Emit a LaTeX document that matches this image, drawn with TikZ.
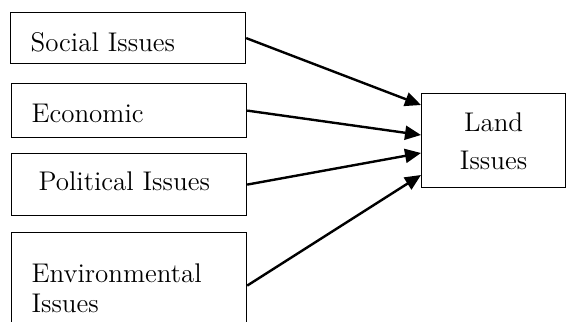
\documentclass[tikz,border=0pt]{standalone}
\usetikzlibrary{arrows.meta}

\tikzset{
  issue/.style={
    draw,
    line width=0.6pt,
    anchor=north west,
    text width=97.5pt,
    align=left,
    inner xsep=10pt,
    inner ysep=0pt,
    font=\fontsize{13.5}{15}\selectfont
  },
  link/.style={
    line width=1.2pt,
    -{Triangle[length=8pt,width=7pt]}
  }
}

\begin{document}
\begin{tikzpicture}[x=0.5pt, y=-0.5pt]
    \useasboundingbox (0,0) rectangle (566,321);
    \clip (0,0) rectangle (566,321);

    \node[issue, text height=19.5pt, text depth=6pt] (social) at (10, 12) {Social Issues};
    \node[issue, text height=19.5pt, text depth=7.5pt] (economic) at (11, 83) {Economic};
    \node[issue, text height=18.5pt, text depth=12.5pt] (political) at (11, 153) {\hspace*{3.5pt}Political Issues};
    \node[issue, text height=25pt, text depth=28pt] (environ) at (11, 232) {Environmental\\Issues};

    \node[issue, text width=72pt, inner xsep=0pt, align=center,
      font=\fontsize{13.5}{19}\selectfont,
      text height=19pt, text depth=28pt] (land) at (421, 93) {Land\\Issues};

    \draw[link] (social.east) -- ([yshift=-6pt]land.north west);
    \draw[link] (economic.east) -- ([yshift=-21pt]land.north west);
    \draw[link] (political.east) -- ([yshift=-30pt]land.north west);
    \draw[link] (environ.east) -- ([yshift=-41pt]land.north west);
\end{tikzpicture}
\end{document}
